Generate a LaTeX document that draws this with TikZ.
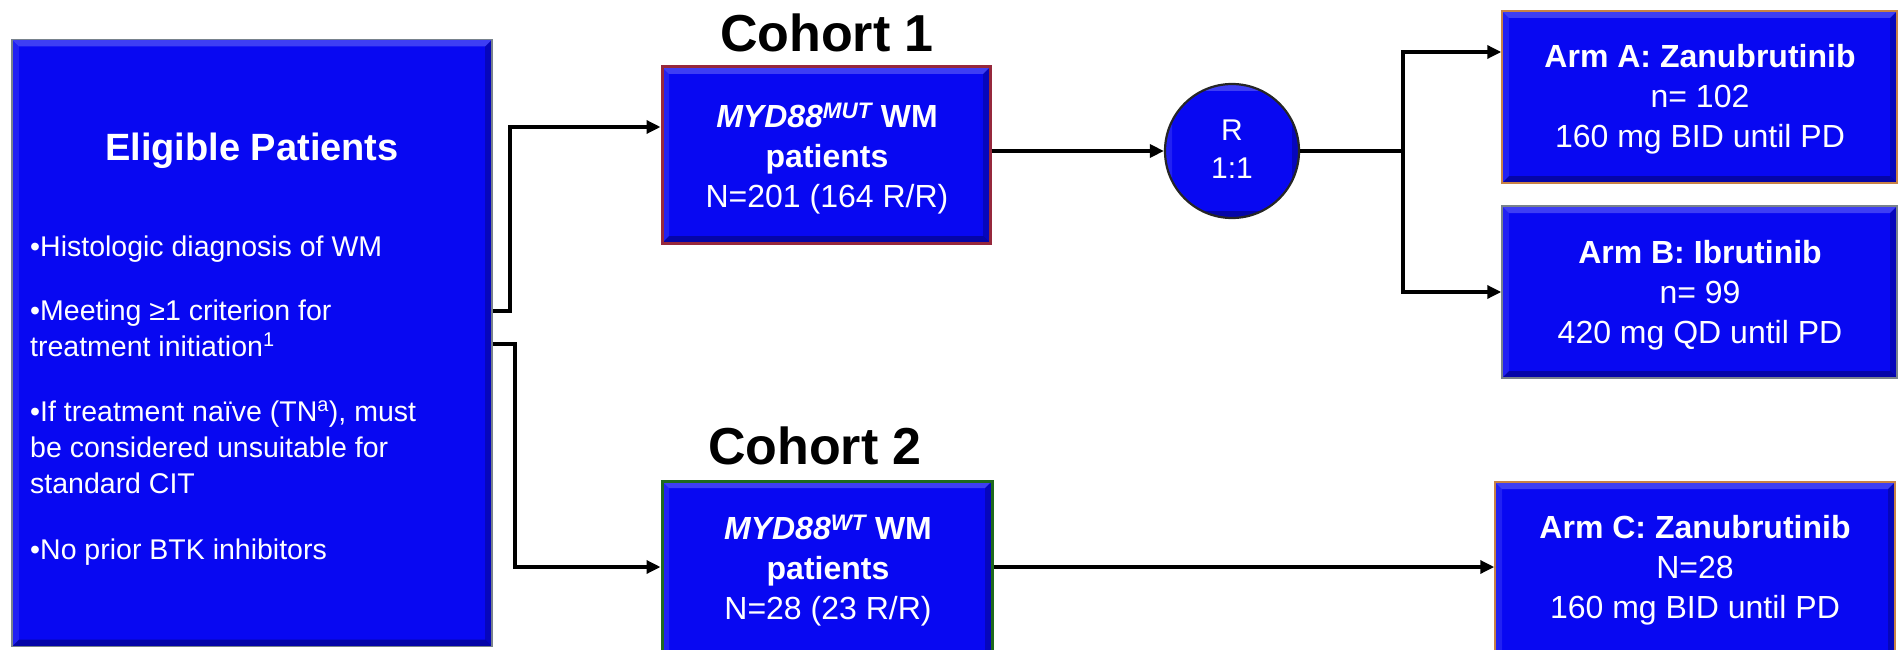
\documentclass[tikz,border=0pt]{standalone}
\usepackage{fontspec}
\setmainfont{Liberation Sans}
\usetikzlibrary{arrows.meta}
\definecolor{boxblue}{RGB}{8,8,242}
\definecolor{redborder}{RGB}{150,40,60}
\definecolor{greenborder}{RGB}{30,105,30}
\definecolor{orangeborder}{RGB}{200,130,70}
\definecolor{grayborder}{RGB}{120,130,140}
\tikzset{
  bevel/.style={path picture={
    \fill[white,opacity=.22] (path picture bounding box.north west) -- (path picture bounding box.north east)
      -- ([xshift=-7pt,yshift=-7pt]path picture bounding box.north east) -- ([xshift=7pt,yshift=-7pt]path picture bounding box.north west) -- cycle;
    \fill[white,opacity=.10] (path picture bounding box.north west) -- (path picture bounding box.south west)
      -- ([xshift=7pt,yshift=7pt]path picture bounding box.south west) -- ([xshift=7pt,yshift=-7pt]path picture bounding box.north west) -- cycle;
    \fill[black,opacity=.30] (path picture bounding box.south west) -- (path picture bounding box.south east)
      -- ([xshift=-7pt,yshift=7pt]path picture bounding box.south east) -- ([xshift=7pt,yshift=7pt]path picture bounding box.south west) -- cycle;
    \fill[black,opacity=.22] (path picture bounding box.north east) -- (path picture bounding box.south east)
      -- ([xshift=-7pt,yshift=7pt]path picture bounding box.south east) -- ([xshift=-7pt,yshift=-7pt]path picture bounding box.north east) -- cycle;
  }},
  bluebox/.style={rectangle, fill=boxblue, inner sep=0pt, bevel},
  conn/.style={line width=3.3pt, draw=black},
  arr/.style={conn, -{Triangle[length=14pt,width=13pt]}},
  boxtext/.style={text=white, align=center, font=\fontsize{32}{40}\selectfont, inner sep=0pt},
  bullet/.style={text=white, anchor=base west, font=\fontsize{28.5}{36}\selectfont, inner sep=0pt},
  cohort/.style={font=\bfseries\fontsize{52}{60}\selectfont, inner sep=0pt}
}
\begin{document}
\begin{tikzpicture}[x=1pt,y=-1pt]
\useasboundingbox (0,0) rectangle (1900,650);

% boxes
\node[bluebox, draw=grayborder, line width=1.5pt, minimum width=480pt, minimum height=607pt] (elig) at (252,343) {};
\node[bluebox, draw=redborder, line width=3pt, minimum width=328pt, minimum height=176pt] (c1) at (826,155) {};
\node[bluebox, draw=greenborder, line width=3pt, minimum width=330pt, minimum height=180pt] (c2) at (827,571) {};
\node[circle, fill=boxblue, draw=black!85, line width=2.2pt, minimum size=134pt, inner sep=0pt, bevel] (R) at (1232,151) {};
\node[bluebox, draw=orangeborder, line width=1.5pt, minimum width=395pt, minimum height=172pt] (aA) at (1699.5,97) {};
\node[bluebox, draw=grayborder, line width=1.5pt, minimum width=395pt, minimum height=172pt] (aB) at (1699.5,292) {};
\node[bluebox, draw=orangeborder, line width=1.5pt, minimum width=400pt, minimum height=180pt] (aC) at (1695,572) {};

% eligible text
\node[text=white, font=\bfseries\fontsize{38}{44}\selectfont, inner sep=0pt] (etitle) at (252,151) {Eligible Patients};
\node[bullet] (b1) at (30,256) {•Histologic diagnosis of WM};
\node[bullet] (b2) at (30,320) {•Meeting ≥1 criterion for};
\node[bullet] (b2b) at (30,356) {treatment initiation\textsuperscript{1}};
\node[bullet] (b3) at (30,421) {•If treatment naïve (TN\textsuperscript{a}), must};
\node[bullet] (b3b) at (30,457) {be considered unsuitable for};
\node[bullet] (b3c) at (30,493) {standard CIT};
\node[bullet] (b4) at (30,559) {•No prior BTK inhibitors};

% cohort titles
\node[cohort] (t1) at (827,33) {Cohort 1};
\node[cohort] (t2) at (815,446) {Cohort 2};

% box texts
\node[boxtext] (c1t) at (827,159) {{\bfseries\itshape MYD88\textsuperscript{MUT}} \textbf{WM}\\ \textbf{patients}\\ N=201 (164 R/R)};
\node[boxtext] (c2t) at (828,571) {{\bfseries\itshape MYD88\textsuperscript{WT}} \textbf{WM}\\ \textbf{patients}\\ N=28 (23 R/R)};
\node[boxtext, font=\fontsize{30}{38}\selectfont] (Rt) at (1232,149) {R\\ 1:1};
\node[boxtext] (aAt) at (1700,99) {\textbf{Arm A: Zanubrutinib}\\ n= 102\\ 160 mg BID until PD};
\node[boxtext] (aBt) at (1700,295) {\textbf{Arm B: Ibrutinib}\\ n= 99\\ 420 mg QD until PD};
\node[boxtext] (aCt) at (1695,570) {\textbf{Arm C: Zanubrutinib}\\ N=28\\ 160 mg BID until PD};

% connectors
\coordinate (j1) at (510,311);
\coordinate (j1t) at (510,127);
\coordinate (j2) at (515,344);
\coordinate (j2b) at (515,567);
\coordinate (j3) at (1403,151);
\coordinate (jA) at (1403,52);
\coordinate (jB) at (1403,292);

\draw[arr] (elig.east |- j1) -- (j1) -- (j1t) -- (c1.west |- j1t);
\draw[arr] (elig.east |- j2) -- (j2) -- (j2b) -- (c2.west |- j2b);
\draw[arr] (c1.east |- R.west) -- (R.west);
\draw[conn] (R.east) -- (j3);
\draw[arr] (j3) -- (jA) -- (aA.west |- jA);
\draw[arr] (j3) -- (jB) -- (aB.west |- jB);
\draw[arr] (c2.east |- j2b) -- (aC.west |- j2b);
\end{tikzpicture}
\end{document}
